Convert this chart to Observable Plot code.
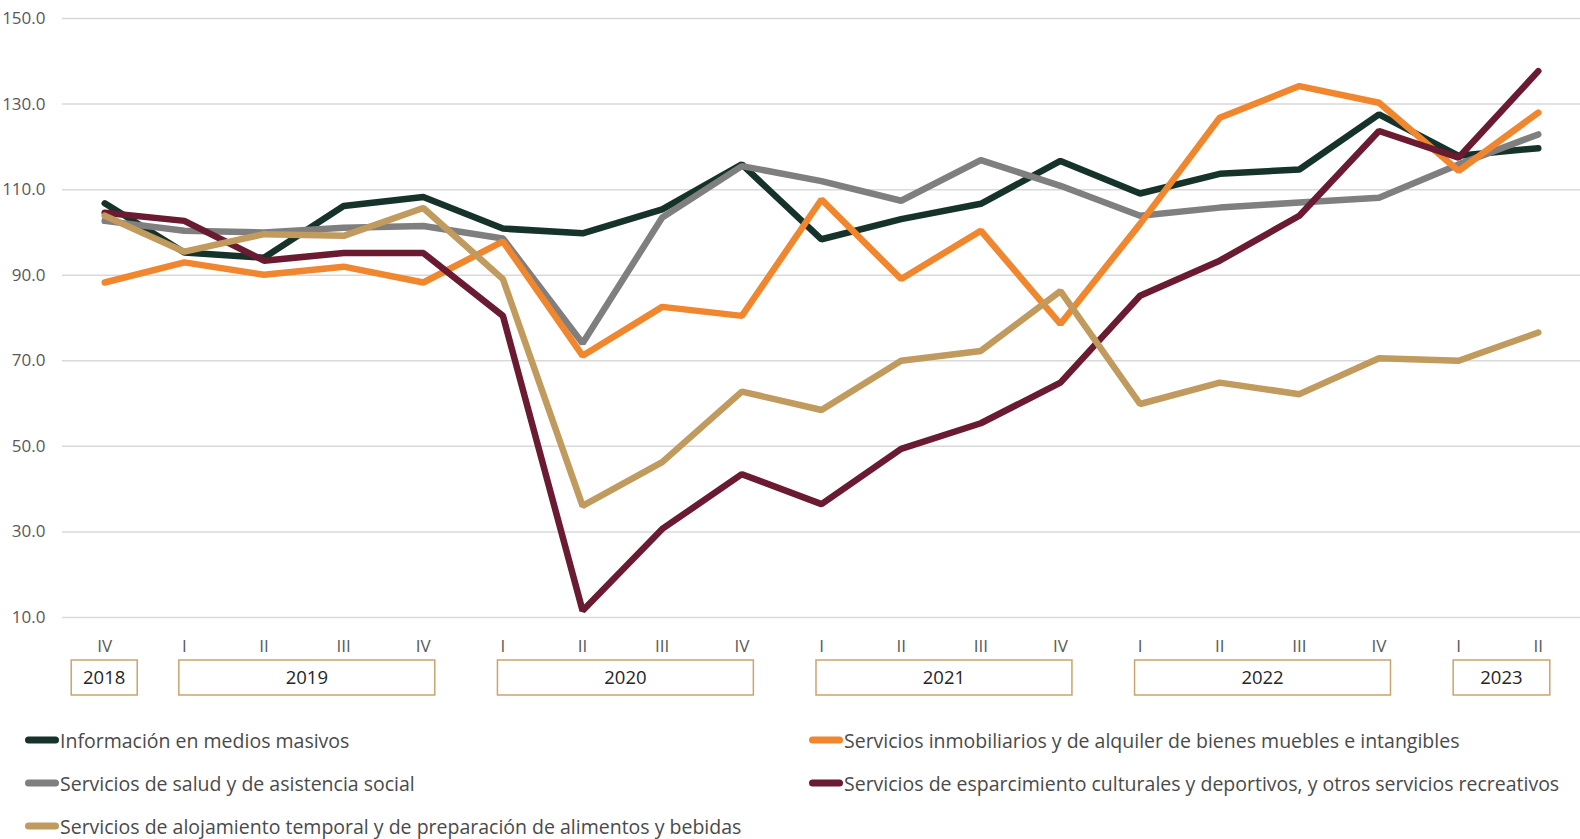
<!DOCTYPE html>
<html><head><meta charset="utf-8">
<script src="https://cdn.jsdelivr.net/npm/d3@7"></script>
<script src="https://cdn.jsdelivr.net/npm/@observablehq/plot@0.6"></script>
<style>
body{margin:0;background:#fff;font-family:"Open Sans","Noto Sans",sans-serif;}
#wrap{position:relative;width:1580px;height:839px;}
.leg{position:absolute;display:flex;align-items:center;font-size:19.5px;color:#4a4a4a;white-space:nowrap;transform:translateY(-50%);}
.sw{width:34px;height:7px;border-radius:4px;margin-right:1px;}
</style></head>
<body><div id="wrap"></div>
<script>
const quarterLabels = ["IV","I","II","III","IV","I","II","III","IV","I","II","III","IV","I","II","III","IV","I","II"];
const quarterYears  = [2018,2019,2019,2019,2019,2020,2020,2020,2020,2021,2021,2021,2021,2022,2022,2022,2022,2023,2023];
const years = [2018,2019,2020,2021,2022,2023];
const yTicks = [10,30,50,70,90,110,130,150];

const seriesNames = [
  "Información en medios masivos",
  "Servicios inmobiliarios y de alquiler de bienes muebles e intangibles",
  "Servicios de salud y de asistencia social",
  "Servicios de esparcimiento culturales y deportivos, y otros servicios recreativos",
  "Servicios de alojamiento temporal y de preparación de alimentos y bebidas"
];
const seriesColors = ["#16332b","#f0862e","#7f7f7f","#6a1a31","#c19a5e"];

const informacion   = [106.8,95.3,94.1,106.2,108.3,100.9,99.8,105.4,115.9,98.4,103.1,106.7,116.7,109.1,113.7,114.7,127.6,117.9,119.7];
const inmobiliarios = [88.3,93.0,90.1,92.0,88.3,97.9,71.2,82.6,80.5,107.7,89.1,100.4,78.6,102.0,126.8,134.2,130.3,114.4,128.0];
const salud         = [102.7,100.4,100.0,101.1,101.5,98.6,74.1,103.5,115.5,112.0,107.4,116.9,110.9,103.9,105.8,107.0,108.1,115.9,122.9];
const esparcimiento = [104.6,102.7,93.4,95.2,95.2,80.5,11.6,30.7,43.5,36.5,49.4,55.4,64.9,85.2,93.4,103.9,123.7,117.5,137.7];
const alojamiento   = [103.9,95.5,99.6,99.2,105.7,89.1,36.1,46.3,62.8,58.5,70.0,72.3,86.3,59.9,64.9,62.2,70.6,70.0,76.6];

const ids = quarterLabels.map((q,i) => quarterYears[i] + "-" + q);
const valuesBySeries = [informacion, inmobiliarios, salud, esparcimiento, alojamiento];
const drawOrder = [0,2,1,3,4];
const data = [];
for (const s of drawOrder) valuesBySeries[s].forEach((v,i) => data.push({id: ids[i], value: v, series: seriesNames[s]}));

const chart = Plot.plot({
  width: 1580, height: 700,
  marginLeft: 62, marginRight: 0, marginTop: 18, marginBottom: 83,
  style: {fontFamily: "'Open Sans', 'Noto Sans', sans-serif", background: "#fff"},
  x: {type: "point", domain: ids, padding: 0.53, round: false, axis: null},
  y: {domain: [10,150], axis: null},
  color: {domain: seriesNames, range: seriesColors},
  marks: [
    Plot.gridY(yTicks, {stroke: "#d9d9d9", strokeOpacity: 1, strokeWidth: 1.5}),
    Plot.axisY(yTicks, {label: null, tickSize: 0, tickPadding: 17, tickFormat: d3.format(".1f"), fontSize: 17, fill: "#595959"}),
    Plot.axisX(ids, {label: null, tickSize: 0, tickPadding: 22, tickFormat: d => quarterLabels[ids.indexOf(d)], fontSize: 17, fill: "#595959"}),
    Plot.line(data, {x: "id", y: "value", z: "series", stroke: "series", strokeWidth: 6.5, strokeLinejoin: "miter", strokeLinecap: "round"})
  ]
});

// year boxes positioned through the x scale
const xs = chart.scale("x");
const svg = d3.select(chart);
const g = svg.append("g");
for (const yr of years) {
  const yIds = ids.filter((d,i) => quarterYears[i] === yr);
  const a = xs.apply(yIds[0]), b = xs.apply(yIds[yIds.length-1]);
  const single = yIds.length === 1;
  const left = single ? a - 33 : a - 5;
  const right = single ? b + 33 : b + 12;
  g.append("rect").attr("x", left).attr("y", 660).attr("width", right-left).attr("height", 35)
    .attr("fill", "#fff").attr("stroke", "#c9a46c").attr("stroke-width", 1.5);
  g.append("text").attr("x", (left+right)/2).attr("y", 678).attr("dy", "0.35em")
    .attr("text-anchor", "middle").attr("font-size", 18.5).attr("fill", "#262626").text(yr);
}

const wrap = document.getElementById("wrap");
wrap.appendChild(chart);
chart.style.position = "absolute"; chart.style.left = "0"; chart.style.top = "0";

const legendPos = [[25,740],[809,740],[25,783],[809,783],[25,826]];
seriesNames.forEach((name,i) => {
  const d = document.createElement("div");
  d.className = "leg";
  d.style.left = legendPos[i][0] + "px";
  d.style.top = legendPos[i][1] + "px";
  d.innerHTML = `<span class="sw" style="background:${seriesColors[i]}"></span><span>${name}</span>`;
  wrap.appendChild(d);
});
</script></body></html>
